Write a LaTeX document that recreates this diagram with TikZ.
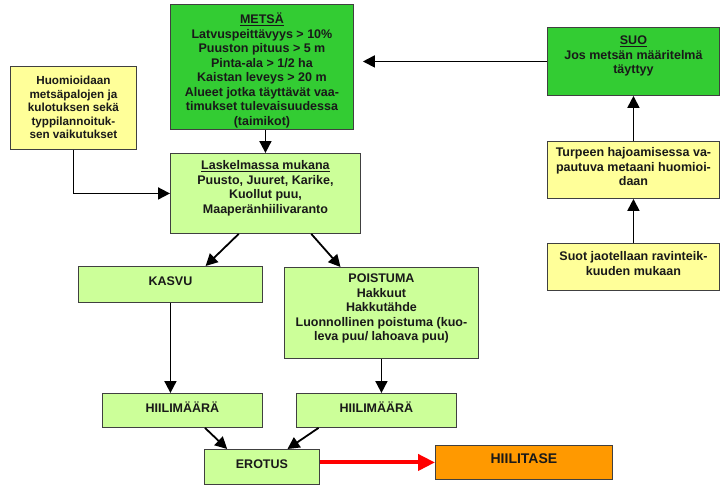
\documentclass[tikz,border=0pt]{standalone}
\usepackage{fontspec}
\setmainfont{Liberation Sans}
\usetikzlibrary{arrows.meta,calc}

\definecolor{tummavihrea}{RGB}{51,204,51}
\definecolor{vaaleavihrea}{RGB}{204,255,153}
\definecolor{kelta}{RGB}{255,255,153}
\definecolor{oranssi}{RGB}{255,153,0}

% box text: width, height (pt), top aligned
\newcommand{\teksti}[4][7.5]{\parbox[c][#3pt][t]{#2pt}{\centering\vspace*{#1pt}\strut #4}}

\tikzset{
  laatikko/.style={draw=black!75, line width=0.9pt, inner sep=0pt, anchor=north west,
    text=black!90, font=\bfseries\fontsize{12.5}{14.5}\selectfont},
  metsabox/.style={laatikko, fill=tummavihrea},
  laskubox/.style={laatikko, fill=vaaleavihrea},
  huomiobox/.style={laatikko, fill=kelta},
  tulosbox/.style={laatikko, fill=oranssi, font=\bfseries\fontsize{14}{16}\selectfont},
  nuoli/.style={-{Triangle[length=12pt,width=12pt]}, line width=1.8pt},
  punanuoli/.style={-{Triangle[length=17pt,width=16pt]}, line width=4pt, red},
}

\begin{document}
\begin{tikzpicture}[x=1pt,y=-1pt]
\useasboundingbox (0,0) rectangle (721,485);

% boxes
\node[metsabox] (metsa) at (170,4) {\teksti[8.5]{183}{125}{\underline{METSÄ}\\
  Latvuspeittävyys > 10\%\\ Puuston pituus > 5 m\\ Pinta-ala > 1/2 ha\\
  Kaistan leveys > 20 m\\ Alueet jotka täyttävät vaa-\\ timukset tulevaisuudessa\\ (taimikot)}};
\node[huomiobox, font=\bfseries\fontsize{11.7}{13.5}\selectfont] (huom) at (10,66)
  {\teksti[9]{126}{83}{Huomioidaan\\ metsäpalojen ja\\ kulotuksen sekä\\ typpilannoituk-\\ sen vaikutukset}};
\node[metsabox] (suo) at (547,27) {\teksti[7]{172}{68}{\underline{SUO}\\ Jos metsän määritelmä\\ täyttyy}};
\node[huomiobox] (turve) at (547,141) {\teksti[5]{172}{57}{Turpeen hajoamisessa va-\\ pautuva metaani huomioi-\\ daan}};
\node[huomiobox] (suot) at (547,243) {\teksti[7]{172}{47}{Suot jaotellaan ravinteik-\\ kuuden mukaan}};
\node[laskubox] (laskelma) at (170,153) {\teksti[6]{190}{80}{\underline{Laskelmassa mukana}\\
  Puusto, Juuret, Karike,\\ Kuollut puu,\\ Maaperänhiilivaranto}};
\node[laskubox] (kasvu) at (78,266) {\teksti[8.5]{184}{36}{KASVU}};
\node[laskubox] (poistuma) at (284,267) {\teksti[5]{194}{91}{POISTUMA\\ Hakkuut\\ Hakkutähde\\
  Luonnollinen poistuma (kuo-\\ leva puu/ lahoava puu)}};
\node[laskubox] (hiili1) at (102,393) {\teksti[8]{160}{34}{HIILIMÄÄRÄ}};
\node[laskubox] (hiili2) at (296,393) {\teksti[8]{160}{34}{HIILIMÄÄRÄ}};
\node[laskubox] (erotus) at (204,449) {\teksti[8.5]{115}{35}{EROTUS}};
\node[tulosbox] (hiilitase) at (435,445) {\teksti[7]{177}{34}{HIILITASE}};

% arrows
\draw[nuoli] (metsa.south -| laskelma.north) -- (laskelma.north);
\draw[nuoli, shorten >=9pt] (suo.west) -- (suo.west -| metsa.east);
\draw[nuoli] (turve.north) -- (suo.south);
\draw[nuoli] (suot.north) -- (turve.south);
\draw[nuoli] (huom.south) |- (laskelma.west);
\draw[nuoli] ($(laskelma.south west)!0.36!(laskelma.south east)$) -- ($(kasvu.north west)!0.69!(kasvu.north east)$);
\draw[nuoli] ($(laskelma.south west)!0.74!(laskelma.south east)$) -- ($(poistuma.north west)!0.29!(poistuma.north east)$);
\draw[nuoli] (kasvu.south) -- (kasvu.south |- hiili1.north);
\draw[nuoli] (poistuma.south) -- (poistuma.south |- hiili2.north);
\draw[nuoli] ($(hiili1.south west)!0.64!(hiili1.south east)$) -- ($(erotus.north west)!0.2!(erotus.north east)$);
\draw[nuoli] ($(hiili2.south west)!0.14!(hiili2.south east)$) -- ($(erotus.north west)!0.72!(erotus.north east)$);
\draw[punanuoli] (erotus.east |- hiilitase.west) -- (hiilitase.west);
\end{tikzpicture}
\end{document}
